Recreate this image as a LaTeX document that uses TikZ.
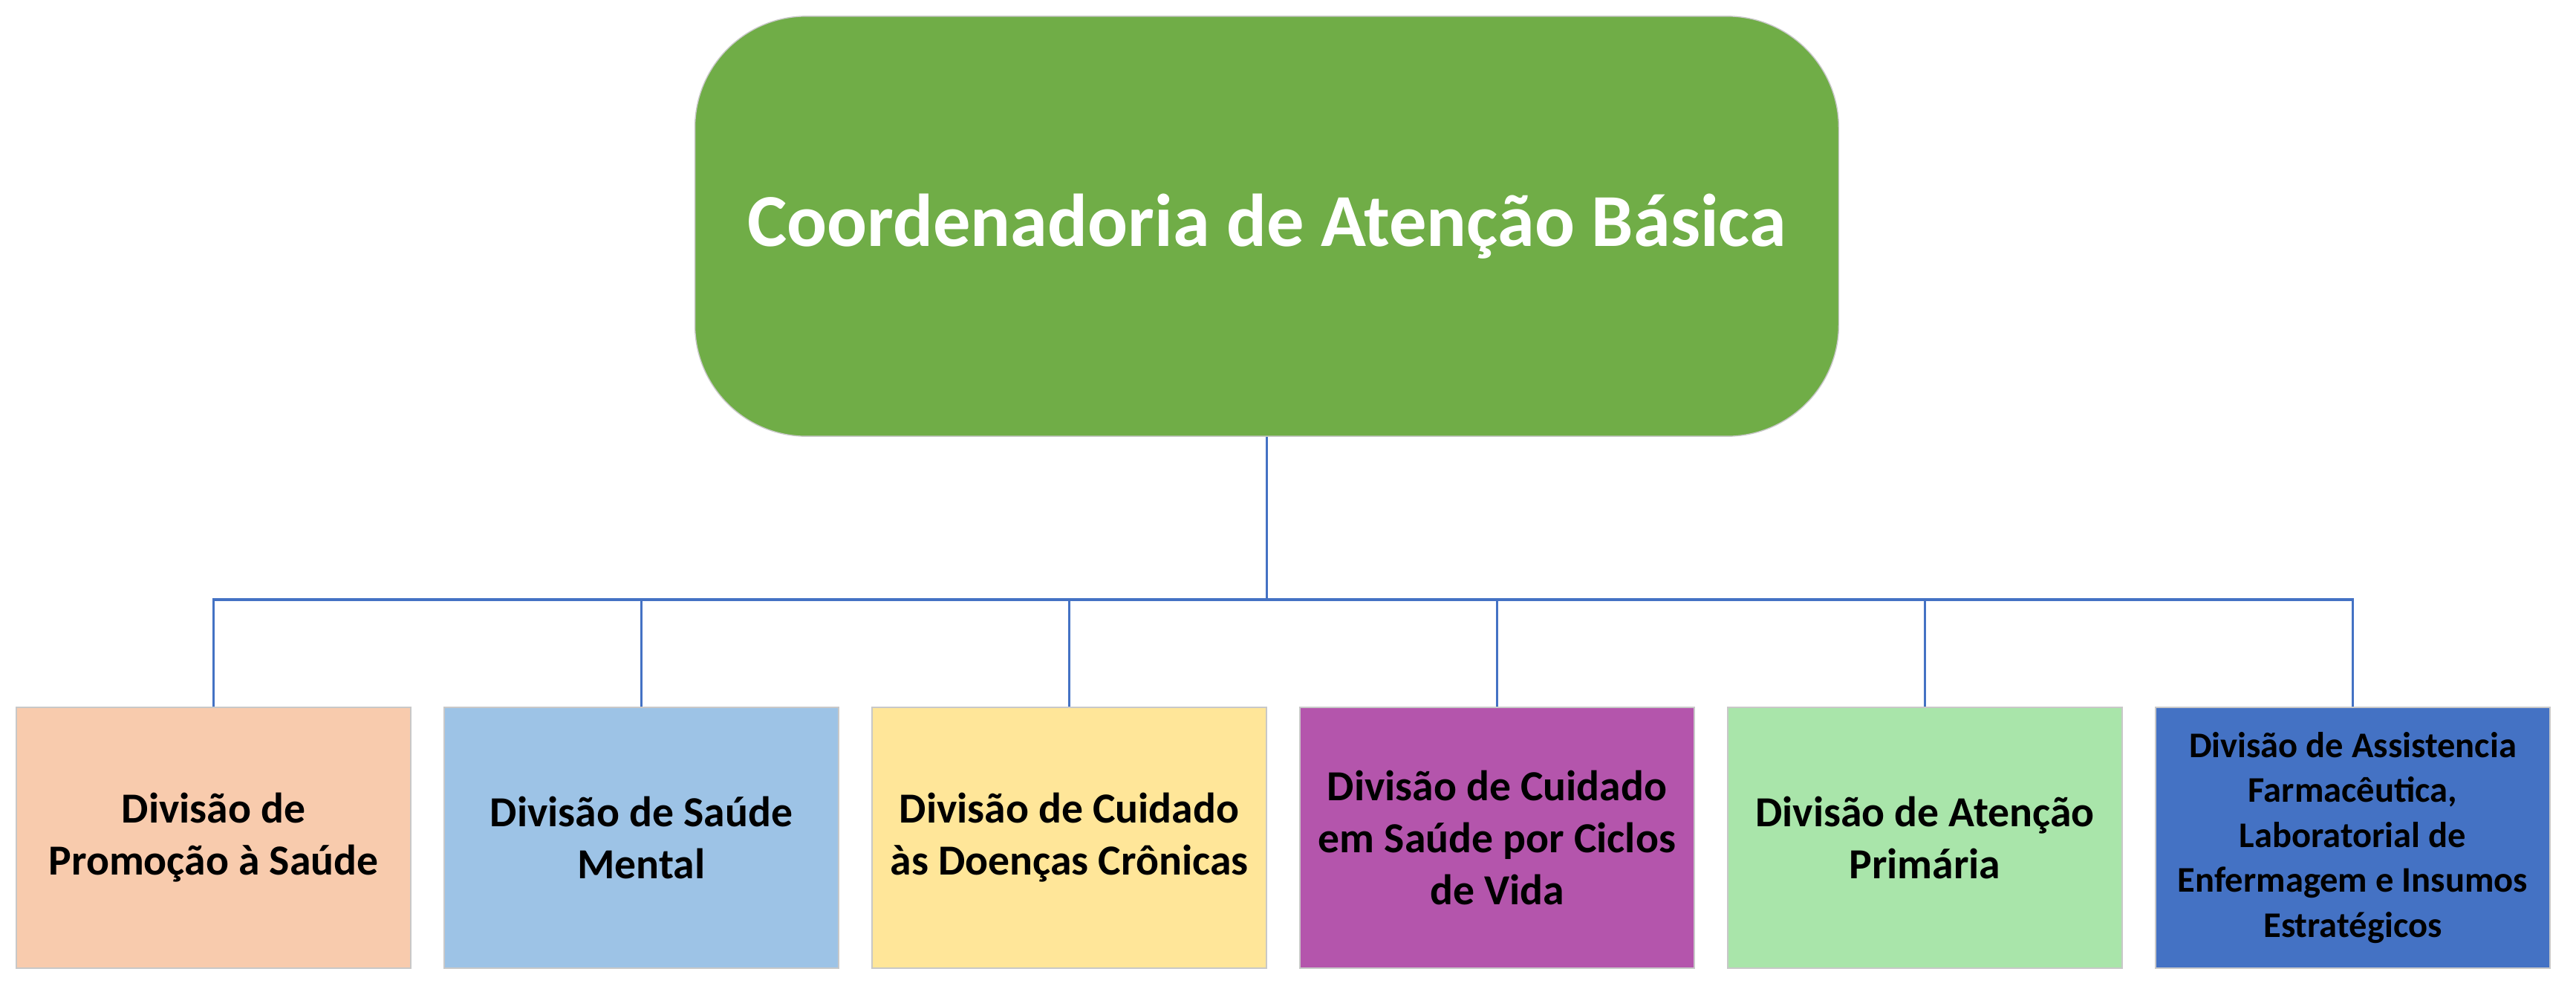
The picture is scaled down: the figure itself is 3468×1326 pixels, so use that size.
\documentclass[tikz,border=0pt]{standalone}
\usepackage{fontspec}
\setmainfont{Carlito}
\definecolor{cgreen}{HTML}{70AD47}
\definecolor{cpeach}{HTML}{F8CBAD}
\definecolor{clblue}{HTML}{9DC3E6}
\definecolor{cyellow}{HTML}{FFE699}
\definecolor{cpurple}{HTML}{B455AC}
\definecolor{clgreen}{HTML}{A9E5AA}
\definecolor{cdblue}{HTML}{4472C4}
\definecolor{lineblue}{HTML}{4472C4}
\definecolor{cborder}{HTML}{C8C8C8}
\tikzset{
  topbox/.style={draw=cborder, line width=0.4pt, fill=cgreen, rounded corners=1.5cm,
    minimum width=15.39cm, minimum height=5.65cm, inner sep=0pt, text=white,
    font=\fontsize{28.6}{35}\selectfont\bfseries},
  divbox/.style={draw=cborder, line width=0.4pt, minimum width=5.31cm, minimum height=3.51cm,
    inner sep=0pt, align=center, text=black,
    font=\fontsize{16.4}{19.9}\selectfont\bfseries},
  smalltext/.style={font=\fontsize{13.8}{17.2}\selectfont\bfseries},
  conn/.style={draw=lineblue, line width=1pt}
}
\begin{document}
\begin{tikzpicture}[x=0.01cm,y=-0.01cm]
\useasboundingbox (0,0) rectangle (3468,1326);
\node[topbox] (top) at (1705.5,304.5) {Coordenadoria de Atenção Básica};
\node[divbox, fill=cpeach]   (d1) at (287.5,1127.5)  {Divisão de\\Promoção à Saúde};
\node[divbox, fill=clblue]   (d2) at (863.5,1127.5)  {Divisão de Saúde\\Mental};
\node[divbox, fill=cyellow]  (d3) at (1439.5,1127.5) {Divisão de Cuidado\\às Doenças Crônicas};
\node[divbox, fill=cpurple]  (d4) at (2015.5,1127.5) {Divisão de Cuidado\\em Saúde por Ciclos\\de Vida};
\node[divbox, fill=clgreen]  (d5) at (2591.5,1127.5) {Divisão de Atenção\\Primária};
\node[divbox, fill=cdblue, smalltext] (d6) at (3167.5,1127.5) {Divisão de Assistencia\\Farmacêutica,\\Laboratorial de\\Enfermagem e Insumos\\Estratégicos};
\coordinate (bus) at (1705.5,807);
\draw[conn] (top.south) -- (bus);
\foreach \k in {1,...,6}{
  \draw[conn] (bus) -| (d\k.north);
}
\end{tikzpicture}
\end{document}
